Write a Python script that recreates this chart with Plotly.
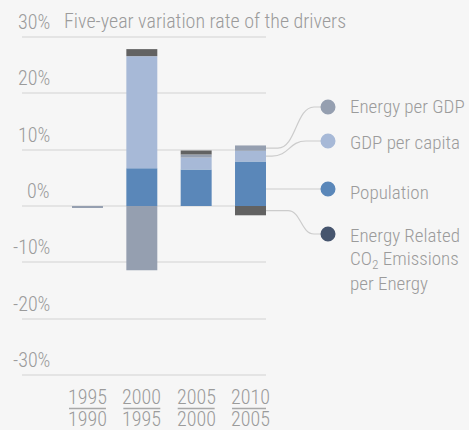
import plotly.graph_objects as go

# Five-year variation rate of the CO2 emission drivers (%)
top_years = ["1995", "2000", "2005", "2010"]
base_years = ["1990", "1995", "2000", "2005"]
population = [0.0, 6.7, 6.5, 7.9]
gdp_per_capita = [0.0, 19.9, 2.1, 1.9]
energy_per_gdp = [-0.3, -11.4, 0.55, 0.95]
co2_per_energy = [0.0, 1.25, 0.7, -1.65]
y_ticks = [30, 20, 10, 0, -10, -20, -30]

series = [
    ("Population", population, "#5a87b9", "#5a87b9"),
    ("GDP per capita", gdp_per_capita, "#a7b9d7", "#a7b9d7"),
    ("Energy per GDP", energy_per_gdp, "#959fb0", "#959fb0"),
    ("Energy Related CO<sub>2</sub> Emissions per Energy", co2_per_energy, "#626262", "#46556e"),
]

W, H = 469, 430
FONT = "Roboto Condensed, Liberation Sans Narrow, DejaVu Sans Condensed, Roboto, sans-serif"
FS = 20
WEIGHT = 300
TXT = "#9b9b9b"
BG = "#f6f6f6"
LINE = "#cccccc"

# plot area in pixels and axis ranges
X_LEFT, X_RIGHT = 22, 266
Y_TOP, Y_BOTTOM = 0, 384
X_RANGE = [-1.205, 3.285]
PX_PER_UNIT = 5.633
ZERO_PX = 206.0
Y_RANGE = [(ZERO_PX - Y_BOTTOM) / PX_PER_UNIT, (ZERO_PX - Y_TOP) / PX_PER_UNIT]
BAR_W = 0.57


def px_x(p):
    return p / W


def px_y(p):
    return (H - p) / H


def val_to_px(v):
    return ZERO_PX - v * PX_PER_UNIT


def cat_to_px(c):
    return X_LEFT + (c - X_RANGE[0]) / (X_RANGE[1] - X_RANGE[0]) * (X_RIGHT - X_LEFT)


def font(size=FS):
    return dict(size=size, color=TXT, family=FONT, weight=WEIGHT)


xs = list(range(len(top_years)))
fig = go.Figure()
for name, vals, color, _ in series:
    fig.add_trace(go.Bar(x=xs, y=vals, name=name, width=BAR_W,
                         marker=dict(color=color, line=dict(width=0))))

shapes = []
annotations = []

# y tick labels sit just above their gridlines
for v in y_ticks:
    annotations.append(dict(x=px_x(52), xref="paper", y=v, yref="y", yshift=15,
                            text=f"{v}%", showarrow=False, xanchor="right",
                            font=font()))

annotations.append(dict(x=px_x(62), xref="paper", y=px_y(21), yref="paper",
                        text="Five-year variation rate of the drivers", showarrow=False,
                        xanchor="left", yanchor="middle", font=font()))

# year pairs written as fractions
for i in xs:
    annotations.append(dict(x=i, xref="x", y=px_y(397), yref="paper", text=top_years[i],
                            showarrow=False, xanchor="center", yanchor="middle", font=font()))
    annotations.append(dict(x=i, xref="x", y=px_y(419), yref="paper", text=base_years[i],
                            showarrow=False, xanchor="center", yanchor="middle", font=font()))
    shapes.append(dict(type="line", xref="x", yref="paper", x0=i - 0.34, x1=i + 0.34,
                       y0=px_y(408.5), y1=px_y(408.5), line=dict(color="#a8a8a8", width=1.5)))

# legend connectors from the last bar's segments
last = len(xs) - 1
bar_right = cat_to_px(last + BAR_W / 2)
dot_x = 328
p, g, e, c = population[last], gdp_per_capita[last], energy_per_gdp[last], co2_per_energy[last]
starts = {
    "Energy per GDP": val_to_px(p + g + e / 2),
    "GDP per capita": val_to_px(p + g / 2),
    "Population": 189,
    "co2": val_to_px(c / 2),
}
dots = {"Energy per GDP": 107, "GDP per capita": 141, "Population": 189, "co2": 234}
bends = {"Energy per GDP": (278, 314), "GDP per capita": (272, 306),
         "Population": (280, 300), "co2": (288, 314)}


def connector(y0, y1, b0, b1):
    xm = (b0 + b1) / 2
    pts = [(bar_right, y0), (b0, y0), (xm, y0), (xm, y1), (b1, y1), (dot_x, y1)]
    q = [(px_x(a), px_y(b)) for a, b in pts]
    return (f"M {q[0][0]},{q[0][1]} L {q[1][0]},{q[1][1]} "
            f"C {q[2][0]},{q[2][1]} {q[3][0]},{q[3][1]} {q[4][0]},{q[4][1]} "
            f"L {q[5][0]},{q[5][1]}")


for key in dots:
    shapes.append(dict(type="path", xref="paper", yref="paper",
                       path=connector(starts[key], dots[key], *bends[key]),
                       line=dict(color=LINE, width=1.2), layer="below"))

dot_colors = {"Population": series[0][3], "GDP per capita": series[1][3],
              "Energy per GDP": series[2][3], "co2": series[3][3]}
R = 7.5
for key, yc in dots.items():
    shapes.append(dict(type="circle", xref="paper", yref="paper",
                       x0=px_x(dot_x - R), x1=px_x(dot_x + R),
                       y0=px_y(yc + R), y1=px_y(yc - R),
                       fillcolor=dot_colors[key], line=dict(width=0)))

labels = [("Energy per GDP", 106), ("GDP per capita", 142), ("Population", 192),
          ("Energy Related", 235), ("CO<sub>2</sub> Emissions", 259), ("per Energy", 283)]
for text, yc in labels:
    annotations.append(dict(x=px_x(348), xref="paper", y=px_y(yc), yref="paper",
                            text=text, showarrow=False, xanchor="left", yanchor="middle",
                            font=font(19)))

fig.update_layout(
    width=W, height=H,
    margin=dict(l=0, r=0, t=0, b=0),
    paper_bgcolor=BG, plot_bgcolor=BG,
    barmode="relative",
    showlegend=False,
    xaxis=dict(domain=[px_x(X_LEFT), px_x(X_RIGHT)], range=X_RANGE,
               showticklabels=False,
               showgrid=False, zeroline=False, showline=False, ticks=""),
    yaxis=dict(domain=[px_y(Y_BOTTOM), px_y(Y_TOP)], range=Y_RANGE,
               tickvals=y_ticks, showticklabels=False,
               showgrid=True, gridcolor="#e4e4e4", gridwidth=1.5,
               zeroline=True, zerolinecolor="#e4e4e4", zerolinewidth=1.5,
               showline=False, ticks=""),
    shapes=shapes,
    annotations=annotations,
    font=dict(family=FONT, color=TXT),
)

fig.write_html("out.html")
